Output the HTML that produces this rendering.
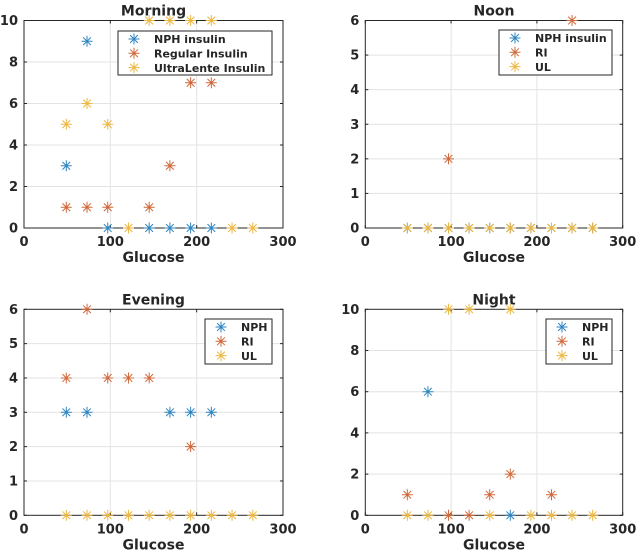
<!DOCTYPE html>
<html><head><meta charset="utf-8"><style>
html,body{margin:0;padding:0;background:#fff;}
svg{display:block;font-family:"DejaVu Sans","Liberation Sans",sans-serif;font-weight:bold;}
</style></head><body>
<svg id="fig" width="640" height="551" viewBox="0 0 640 551"></svg>
<script>
const NS="http://www.w3.org/2000/svg";
const colors=["#2E86C1","#D0683A","#EDB740"];
const xTicks=[0,100,200,300];
// Morning
const mNphX=[73,49,97,145,169,193,217], mNphY=[9,3,0,0,0,0,0];
const mRiX=[49,73,97,145,169,193,217], mRiY=[1,1,1,1,3,7,7];
const mUlX=[49,73,97,121,145,169,193,217,241,265], mUlY=[5,6,5,0,10,10,10,10,0,0];
// Noon
const nNphX=[49,73,97,121,145,169,193,217,241,265], nNphY=[0,0,0,0,0,0,0,0,0,0];
const nRiX=[97,241], nRiY=[2,6];
const nUlX=[49,73,97,121,145,169,193,217,241,265], nUlY=[0,0,0,0,0,0,0,0,0,0];
// Evening
const eNphX=[49,73,169,193,217], eNphY=[3,3,3,3,3];
const eRiX=[49,73,97,121,145,193], eRiY=[4,6,4,4,4,2];
const eUlX=[49,73,97,121,145,169,193,217,241,265], eUlY=[0,0,0,0,0,0,0,0,0,0];
// Night
const gNphX=[73,169], gNphY=[6,0];
const gRiX=[49,97,121,145,169,217], gRiY=[1,0,0,1,2,1];
const gUlX=[97,121,169,49,73,145,193,217,241,265], gUlY=[10,10,10,0,0,0,0,0,0,0];
const yTicks10=[0,2,4,6,8,10], yTicks6=[0,1,2,3,4,5,6];

const svg=document.getElementById('fig');
function el(tag,attrs,parent){const e=document.createElementNS(NS,tag);for(const k in attrs)e.setAttribute(k,attrs[k]);(parent||svg).appendChild(e);return e;}
function txt(s,x,y,size,anchor,parent){const t=el('text',{x:x,y:y,'font-size':size,'text-anchor':anchor,fill:'#262626'},parent);t.textContent=s;return t;}
function star(g,cx,cy,c,r){
  const d=`M${cx-r},${cy}H${cx+r}M${cx},${cy-r}V${cy+r}M${cx-r*0.7},${cy-r*0.7}L${cx+r*0.7},${cy+r*0.7}M${cx-r*0.7},${cy+r*0.7}L${cx+r*0.7},${cy-r*0.7}`;
  return el('path',{d:d,stroke:c,'stroke-width':1,fill:'none'},g);
}
function panel(name,title,L,R,T,B,ymax,yT,series,labels,leg){
  const g=el('g',{});
  
  
  const sx=v=>L+(v/300)*(R-L), sy=v=>B-(v/ymax)*(B-T);
  el('rect',{x:L,y:T,width:R-L,height:B-T,fill:'#fff'},g);
  xTicks.forEach(v=>{if(v>0&&v<300){const l=el('line',{x1:sx(v),x2:sx(v),y1:T,y2:B,stroke:'#e3e3e3','stroke-width':1},g);}});
  yT.forEach(v=>{if(v>0&&v<ymax){const l=el('line',{x1:L,x2:R,y1:sy(v),y2:sy(v),stroke:'#e3e3e3','stroke-width':1},g);}});
  const box=el('rect',{x:L,y:T,width:R-L,height:B-T,fill:'none',stroke:'#262626','stroke-width':1},g);
  
  xTicks.forEach(v=>{const t=txt(String(v),sx(v),B+18,13,'middle',g);
    el('line',{x1:sx(v),x2:sx(v),y1:B,y2:B-3,stroke:'#262626'},g);el('line',{x1:sx(v),x2:sx(v),y1:T,y2:T+3,stroke:'#262626'},g);});
  yT.forEach(v=>{const t=txt(String(v),L-6,sy(v)+4.5,13,'end',g);
    el('line',{x1:L,x2:L+3,y1:sy(v),y2:sy(v),stroke:'#262626'},g);el('line',{x1:R,x2:R-3,y1:sy(v),y2:sy(v),stroke:'#262626'},g);});
  const tt=txt(title,(L+R)/2,T-5,14,'middle',g);
  const xl=txt('Glucose',(L+R)/2,B+34,14,'middle',g);
  series.forEach((s,i)=>{s[0].forEach((xv,j)=>{const p=star(g,sx(xv),sy(s[1][j]),colors[i],5.5);
    
    });});
  const lg=el('g',{},g);
  
  
  el('rect',{x:leg[0],y:leg[1],width:leg[2],height:leg[3],fill:'#fff',stroke:'#262626','stroke-width':1},lg);
  labels.forEach((lb,i)=>{const yy=leg[1]+8+i*14.3;
    star(lg,leg[0]+16,yy,colors[i],5.5);
    const t=txt(lb,leg[0]+36,yy+4.2,11,'start',lg);
    
    });
}
panel('morning','Morning',24,283,20.5,228,10,yTicks10,[[mNphX,mNphY],[mRiX,mRiY],[mUlX,mUlY]],['NPH insulin','Regular Insulin','UltraLente Insulin'],[118,31,154,44]);
panel('noon','Noon',365.3,622.7,20.5,228,6,yTicks6,[[nNphX,nNphY],[nRiX,nRiY],[nUlX,nUlY]],['NPH insulin','RI','UL'],[499,30,113,45]);
panel('evening','Evening',24,283,309.3,515.3,6,yTicks6,[[eNphX,eNphY],[eRiX,eRiY],[eUlX,eUlY]],['NPH','RI','UL'],[205,319,67,45]);
panel('night','Night',365.3,622.7,309.3,515.3,10,yTicks10,[[gNphX,gNphY],[gRiX,gRiY],[gUlX,gUlY]],['NPH','RI','UL'],[546,319,66,45]);
</script>
</body></html>
